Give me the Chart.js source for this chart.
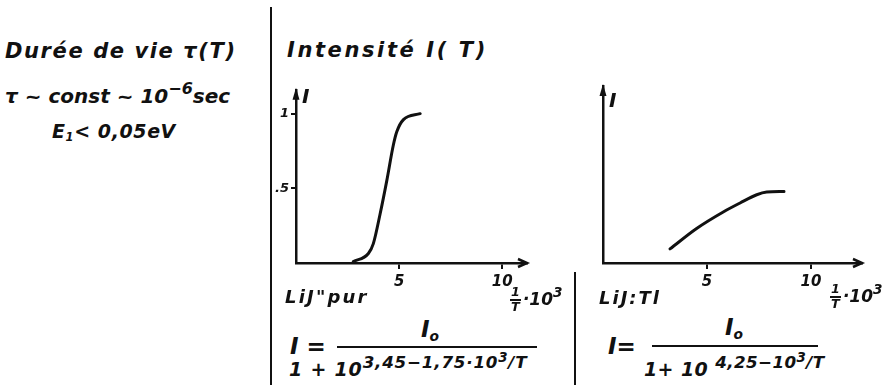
<!DOCTYPE html>
<html>
<head>
<meta charset="utf-8">
<script src="https://cdn.jsdelivr.net/npm/chart.js@4.4.0/dist/chart.umd.min.js"></script>
<style>
  html, body { margin: 0; padding: 0; background: #fff; }
  #page { position: relative; width: 896px; height: 385px; overflow: hidden; background: #fff; }
  .t { position: absolute; white-space: nowrap; line-height: 1; color: #111;
       font-family: "DejaVu Sans", sans-serif; font-style: italic; font-weight: bold; }
  .rule { position: absolute; background: #111; }
  canvas { position: absolute; }
  sup { font-size: 0.8em; vertical-align: 0; position: relative; top: -0.55em; }
  sup sup { font-size: 0.85em; top: -0.45em; }
  sub { font-size: 0.6em; vertical-align: 0; position: relative; top: 0.3em; }
  .den sup { font-size: 0.88em; top: -0.5em; }
  .den sup sup { font-size: 0.8em; top: -0.4em; }
  .frac { display: inline-block; text-align: center; vertical-align: middle; font-size: 0.75em; line-height: 1; margin-right: 2px; }
  .frac span { display: block; }
  .frac .n { border-bottom: 2px solid #111; padding: 0 1px; }
</style>
</head>
<body>
<div id="page">
  <div class="rule" style="left:270px; top:7px; width:2px; height:378px;"></div>
  <div class="rule" style="left:574px; top:272px; width:2px; height:113px;"></div>

  <div class="t" style="left:5px; top:41px; font-size:21px; letter-spacing:1.6px;">Durée de vie τ(T)</div>
  <div class="t" style="left:5px; top:86px; font-size:20px;">τ ~ const ~ 10<sup>−6</sup>sec</div>
  <div class="t" style="left:52px; top:122px; font-size:19px; letter-spacing:0.6px;">E<sub>1</sub>&lt; 0,05eV</div>

  <div class="t" style="left:287px; top:40px; font-size:21px; letter-spacing:2.6px;">Intensité I( T)</div>

  <canvas id="pur" width="270" height="215" style="left:266px; top:80px;"></canvas>
  <canvas id="tl" width="295" height="215" style="left:573px; top:80px;"></canvas>

  <div class="t" style="left:302px; top:86px; font-size:20px;">I</div>
  <div class="t" style="left:609px; top:90px; font-size:20px;">I</div>

  <div class="t" style="left:285px; top:288px; font-size:18px; letter-spacing:2.2px;">LiJ"pur</div>
  <div class="t" style="left:510px; top:286px; font-size:17px;"><span class="frac"><span class="n">1</span><span>T</span></span>·10<sup>3</sup></div>
  <div class="t" style="left:599px; top:289px; font-size:18px; letter-spacing:2px;">LiJ:Tl</div>
  <div class="t" style="left:830px; top:283px; font-size:17px;"><span class="frac"><span class="n">1</span><span>T</span></span>·10<sup>3</sup></div>

  <!-- LiJ pur -->
  <div class="t" style="left:290px; top:335px; font-size:23px;">I =</div>
  <div class="t" style="left:421px; top:318px; font-size:23px;">I<sub>o</sub></div>
  <div class="rule" style="left:337px; top:346px; width:200px; height:2px;"></div>
  <div class="t den" style="left:289px; top:360px; font-size:19px; letter-spacing:0.8px;">1 + 10<sup>3,45−1,75·10<sup>3</sup>/T</sup></div>

  <!-- LiJ:Tl -->
  <div class="t" style="left:608px; top:335px; font-size:23px;">I=</div>
  <div class="t" style="left:725px; top:316px; font-size:23px;">I<sub>o</sub></div>
  <div class="rule" style="left:652px; top:345px; width:166px; height:2px;"></div>
  <div class="t den" style="left:644px; top:360px; font-size:19px; letter-spacing:0.4px;">1+ 10 <sup>4,25−10<sup>3</sup>/T</sup></div>
</div>

<script>
// 1/T * 10^3 against relative intensity, LiJ pure
const purX = [2.78, 3.51, 3.75, 4.08, 4.40, 4.72, 4.89, 5.21, 6.02];
const purY = [0.01, 0.064, 0.13, 0.33, 0.55, 0.79, 0.88, 0.96, 1.0];

// same for LiJ:Tl
const tlX = [3.22, 4.50, 5.78, 6.59, 7.39, 7.87, 8.70];
const tlY = [0.094, 0.23, 0.34, 0.40, 0.455, 0.473, 0.477];

const xTicks = [5, 10];
const yTicks = [0.5, 1];
const yTickLabels = [".5", "1"];

const ink = "#111";

const arrows = {
  id: "arrows",
  afterDraw(chart) {
    const { ctx, chartArea: a } = chart;
    ctx.save();
    ctx.strokeStyle = ink;
    ctx.fillStyle = ink;
    ctx.lineWidth = 2.5;
    // open head on the x axis
    ctx.beginPath();
    ctx.moveTo(a.right - 9, a.bottom - 4);
    ctx.lineTo(a.right, a.bottom);
    ctx.lineTo(a.right - 9, a.bottom + 4);
    ctx.stroke();
    // filled head on the y axis
    ctx.beginPath();
    ctx.moveTo(a.left, a.top - 2);
    ctx.lineTo(a.left - 3.5, a.top + 10);
    ctx.lineTo(a.left + 3.5, a.top + 10);
    ctx.closePath();
    ctx.fill();
    ctx.restore();
  }
};

function makeChart(id, xs, ys, xMax, yMax, pad, showY) {
  return new Chart(document.getElementById(id), {
    type: "line",
    data: {
      datasets: [{
        data: xs.map((x, i) => ({ x: x, y: ys[i] })),
        borderColor: ink,
        borderWidth: 3,
        pointRadius: 0,
        cubicInterpolationMode: "monotone",
        fill: false,
        borderCapStyle: "round"
      }]
    },
    options: {
      responsive: false,
      animation: false,
      layout: { padding: pad },
      plugins: { legend: { display: false }, tooltip: { enabled: false } },
      scales: {
        x: {
          type: "linear",
          min: 0,
          max: xMax,
          afterFit: (s) => { s.height = 32; },
          afterBuildTicks: (s) => { s.ticks = xTicks.map((v) => ({ value: v })); },
          ticks: {
            color: ink,
            maxRotation: 0,
            padding: 4,
            font: { family: "DejaVu Sans", style: "italic", weight: "bold", size: 15 }
          },
          grid: { drawOnChartArea: false, tickLength: 6, color: ink, lineWidth: 2 },
          border: { color: ink, width: 2.5 }
        },
        y: {
          min: 0,
          max: yMax,
          afterFit: (s) => { s.width = 30; },
          afterBuildTicks: (s) => { s.ticks = yTicks.map((v) => ({ value: v })); },
          ticks: {
            display: showY,
            color: ink,
            padding: 2,
            callback: (v) => yTickLabels[yTicks.indexOf(v)],
            font: { family: "DejaVu Sans", style: "italic", weight: "bold", size: 13 }
          },
          grid: { display: showY, drawOnChartArea: false, tickLength: 5, color: ink, lineWidth: 2 },
          border: { color: ink, width: 2.5 }
        }
      }
    },
    plugins: [arrows]
  });
}

makeChart("pur", purX, purY, 11.2, 1.16, { top: 7, right: 9, left: 0, bottom: 0 }, true);
makeChart("tl", tlX, tlY, 12.45, 1.18, { top: 6, right: 6, left: 0, bottom: 0 }, false);
</script>
</body>
</html>
